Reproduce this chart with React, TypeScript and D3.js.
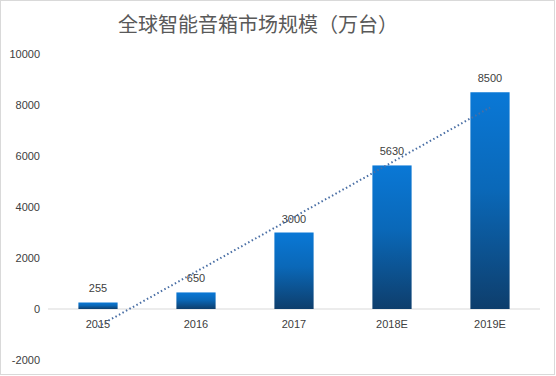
import React from "react";
import * as d3 from "d3";

const categories = ["2015", "2016", "2017", "2018E", "2019E"];
const values = [255, 650, 3000, 5630, 8500];
const yTicks = [-2000, 0, 2000, 4000, 6000, 8000, 10000];
const title = "全球智能音箱市场规模（万台）";

const W = 556;
const H = 376;

export default function App() {
  const x = d3.scaleBand<string>().domain(categories).range([49, 539]).paddingInner(0.6).paddingOuter(0.3);
  const y = d3.scaleLinear().domain([-2000, 10000]).range([360, 54]);

  // linear trend line (least squares)
  const xs = values.map((_, i) => i + 1);
  const mx = d3.mean(xs)!;
  const my = d3.mean(values)!;
  const slope = d3.sum(xs.map((xi, i) => (xi - mx) * (values[i] - my))) / d3.sum(xs.map((xi) => (xi - mx) ** 2));
  const icpt = my - slope * mx;
  const cx = (i: number) => x(categories[i])! + x.bandwidth() / 2;
  const trend = d3.line<number>().x((i) => cx(i)).y((i) => y(icpt + slope * (i + 1)));

  const font = "'Liberation Sans', 'Open Sans', sans-serif";

  return (
    <svg width={W} height={H} style={{ position: "absolute", left: 0, top: 0 }}>
      <defs>
        <linearGradient id="barGrad" x1="0" y1="0" x2="0" y2="1">
          <stop offset="0%" stopColor="#0a78d6" />
          <stop offset="45%" stopColor="#0a68b8" />
          <stop offset="100%" stopColor="#0e3e6c" />
        </linearGradient>
      </defs>
      <rect x={0.5} y={0.5} width={W - 2} height={H - 2} fill="#fff" stroke="#d9d9d9" />
      <text x={258} y={32} textAnchor="middle" fontSize={20} fill="#595959"
        fontFamily="'Noto Sans CJK SC', sans-serif">{title}</text>
      {yTicks.map((t) => (
        <text key={t} x={40} y={y(t) + 4} textAnchor="end" fontSize={11} fill="#404040" fontFamily={font}>{t}</text>
      ))}
      <line x1={48} x2={540} y1={y(0)} y2={y(0)} stroke="#d9d9d9" strokeWidth={1} />
      {values.map((v, i) => (
        <g key={categories[i]}>
          <rect x={x(categories[i])} y={y(v)} width={x.bandwidth()} height={y(0) - y(v)} fill="url(#barGrad)" />
          <text x={cx(i)} y={y(v) - 10} textAnchor="middle" fontSize={11} fill="#404040" fontFamily={font}>{v}</text>
          <text x={cx(i)} y={y(0) + 19} textAnchor="middle" fontSize={11} fill="#404040" fontFamily={font}>{categories[i]}</text>
        </g>
      ))}
      <path d={trend([0, 4])!} stroke="#4a6fa5" strokeWidth={2} strokeDasharray="1.5 2.5" fill="none" />
    </svg>
  );
}
